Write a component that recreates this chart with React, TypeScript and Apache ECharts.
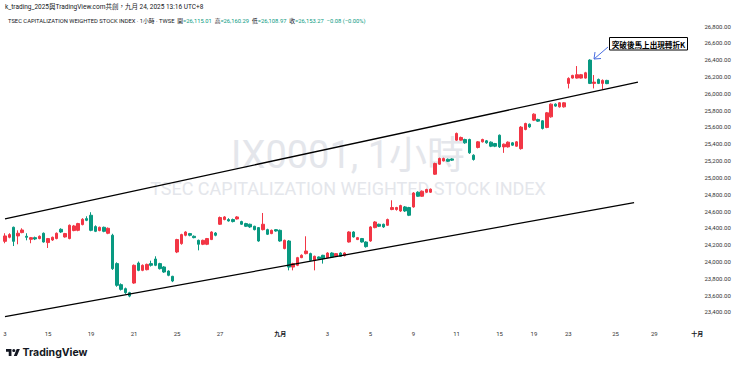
import React, { useEffect, useRef } from "react";
import * as echarts from "echarts";

// ---------- data ----------
const SLOT_COUNT = 162; // hourly bar slots shown (incl. empty future space)

// [open, close, low, high] per hourly bar
const candles: number[][] = [
  [24240, 24304, 24217, 24336], [24288, 24320, 24276, 24336], [24407, 24240, 24184, 24415],
  [24304, 24336, 24205, 24371], [24344, 24375, 24336, 24395], [24300, 24288, 24252, 24336],
  [24264, 24284, 24217, 24292], [24284, 24268, 24255, 24296], [24273, 24300, 24264, 24310],
  [24336, 24232, 24225, 24345], [24225, 24273, 24161, 24280], [24256, 24288, 24245, 24296],
  [24273, 24336, 24264, 24345], [24383, 24351, 24340, 24395], [24292, 24332, 24284, 24340],
  [24273, 24431, 24264, 24440], [24368, 24423, 24360, 24435], [24371, 24451, 24360, 24460],
  [24439, 24502, 24430, 24515], [24510, 24490, 24480, 24538], [24550, 24371, 24360, 24586],
  [24415, 24359, 24350, 24430], [24368, 24407, 24360, 24415], [24407, 24359, 24348, 24415],
  [24336, 24395, 24325, 24405], [24312, 23915, 23900, 24330], [23975, 23717, 23700, 23990],
  [23725, 23669, 23655, 23740], [23677, 23630, 23615, 23690], [23630, 23589, 23575, 23640],
  [23744, 23955, 23735, 23965], [23982, 23895, 23885, 24000], [23895, 23955, 23885, 23965],
  [23903, 23966, 23895, 23975], [23975, 23955, 23940, 24010], [24030, 23955, 23945, 24062],
  [23975, 23915, 23905, 23985], [23935, 23875, 23865, 23945], [23887, 23836, 23825, 23895],
  [23824, 23768, 23755, 23830], [24113, 24261, 24100, 24270], [24213, 24320, 24200, 24330],
  [24312, 24351, 24300, 24360], [24332, 24312, 24300, 24340], [24300, 24284, 24276, 24310],
  [24252, 24205, 24133, 24260], [24205, 24252, 24195, 24260], [24205, 24273, 24195, 24280],
  [24261, 24351, 24255, 24360], [24339, 24312, 24300, 24350], [24443, 24523, 24435, 24535],
  [24499, 24530, 24490, 24540], [24499, 24482, 24475, 24515], [24499, 24475, 24465, 24510],
  [24506, 24530, 24500, 24540], [24475, 24443, 24435, 24485], [24451, 24419, 24410, 24460],
  [24443, 24411, 24400, 24450], [24419, 24379, 24370, 24425], [24403, 24244, 24235, 24410],
  [24379, 24443, 24370, 24577], [24379, 24324, 24315, 24390], [24332, 24371, 24325, 24380],
  [24379, 24363, 24355, 24385], [24371, 24244, 24235, 24380], [24154, 24252, 24145, 24260],
  [24244, 23934, 23895, 24255], [23934, 23975, 23895, 23985], [23955, 24046, 23945, 24055],
  [24046, 24074, 24040, 24085], [24094, 24125, 24085, 24300], [24094, 24014, 24005, 24105],
  [24014, 24062, 23895, 24070], [24054, 24034, 24025, 24060], [24074, 24034, 23975, 24080],
  [24046, 24101, 24040, 24110], [24101, 24054, 24045, 24110], [24062, 24094, 24055, 24100],
  [24101, 24062, 24055, 24110], [24070, 24101, 24060, 24110], [24232, 24351, 24225, 24360],
  [24351, 24292, 24285, 24360], [24261, 24284, 24255, 24292], [24273, 24232, 24225, 24280],
  [24232, 24177, 24165, 24240], [24244, 24411, 24235, 24420], [24403, 24470, 24395, 24480],
  [24443, 24419, 24410, 24450], [24443, 24411, 24400, 24450], [24431, 24499, 24425, 24510],
  [24618, 24642, 24610, 24728], [24618, 24642, 24605, 24650], [24601, 24665, 24590, 24675],
  [24649, 24601, 24590, 24660], [24642, 24550, 24540, 24650], [24649, 24815, 24640, 24825],
  [24824, 24776, 24770, 24835], [24776, 24836, 24770, 24845], [24824, 24856, 24815, 24865],
  [24824, 24860, 24815, 24868], [25038, 25165, 25030, 25175], [25157, 25225, 25150, 25235],
  [25196, 25225, 25190, 25235], [25216, 25192, 25185, 25225], [25220, 25205, 25195, 25228],
  [25443, 25523, 25435, 25533], [25443, 25475, 25436, 25485], [25451, 25411, 25400, 25460],
  [25451, 25292, 25280, 25460], [25264, 25213, 25200, 25275], [25356, 25423, 25345, 25432],
  [25423, 25451, 25415, 25460], [25435, 25411, 25400, 25445], [25419, 25371, 25360, 25428],
  [25403, 25371, 25360, 25410], [25502, 25363, 25350, 25510], [25363, 25395, 25292, 25403],
  [25363, 25419, 25355, 25428], [25411, 25383, 25375, 25420], [25371, 25423, 25365, 25432],
  [25342, 25598, 25330, 25610], [25570, 25641, 25560, 25650], [25633, 25601, 25590, 25640],
  [25681, 25752, 25670, 25762], [25689, 25669, 25660, 25698], [25673, 25582, 25570, 25680],
  [25594, 25768, 25585, 25778], [25720, 25871, 25710, 25880], [25871, 25848, 25840, 25880],
  [25839, 25887, 25830, 25895], [25839, 25887, 25830, 25895], [26118, 26177, 26058, 26190],
  [26181, 26213, 26175, 26220], [26181, 26221, 26175, 26324], [26181, 26221, 26175, 26230],
  [26181, 26244, 26175, 26255], [26395, 26118, 26110, 26405], [26118, 26133, 26058, 26217],
  [26165, 26118, 26110, 26175], [26118, 26153.35, 26050, 26165],
  [26115.01, 26153.27, 26108.97, 26160.29],
];
// bars coloured as "down" (vs previous close) although close > open
const downByPrevClose = [140];

const dayLabels = ["3", "15", "19", "21", "25", "27", "九月", "3", "5", "9", "11", "15", "19", "23", "25", "29", "十月"];
const dayLabelSlots = [0, 10, 20, 30, 40, 50, 64, 75, 85, 95, 105, 115, 123, 131, 142, 151, 161];
const monthLabels = ["九月", "十月"];

const priceMin = 23200;
const priceMax = 27000;
const priceStep = 200;

// channel lines: [slot, price]
const upperChannel = [[0, 24508], [147.2, 26133]];
const lowerChannel = [[0, 23345], [146.3, 24701]];

const headerText = "k_trading_2025與TradingView.com共創，九月 24, 2025 13:16 UTC+8";
const legendTitle = "TSEC CAPITALIZATION WEIGHTED STOCK INDEX · 1小時 · TWSE";
const ohlcNames = ["開", "高", "低", "收"];
const ohlcValues = ["26,115.01", "26,160.29", "26,108.97", "26,153.27"];
const changeText = "−0.08 (−0.00%)";
const watermarkMain = "IX0001, 1小時";
const watermarkSub = "TSEC CAPITALIZATION WEIGHTED STOCK INDEX";
const noteText = "突破後馬上出現轉折K";

// ---------- styling ----------
const UP = "#F23645";
const DOWN = "#089981";
const TEXT = "#131722";
const FONT = "Roboto, 'Noto Sans', 'Noto Sans CJK TC', sans-serif";
const CJK = "'Noto Sans CJK TC', 'Noto Sans', sans-serif";

const TV_LOGO =
  "M14 22H7V11H0V4h14v18z M28 22h-8l7.5-18h8L28 22z M24 8a4 4 0 1 1-8 0a4 4 0 1 1 8 0z";
echarts.graphic.registerShape("tvlogo", echarts.graphic.extendPath(TV_LOGO, {}) as any);

export default function App() {
  const ref = useRef<HTMLDivElement>(null);

  useEffect(() => {
    if (!ref.current) return;
    const chart = echarts.init(ref.current, undefined, { renderer: "svg" });

    const categories = Array.from({ length: SLOT_COUNT }, (_, i) => String(i));
    const labelBySlot: Record<string, string> = {};
    dayLabelSlots.forEach((s, k) => (labelBySlot[String(s)] = dayLabels[k]));

    const candleData = candles.map((c, i) =>
      downByPrevClose.includes(i)
        ? { value: c, itemStyle: { color: DOWN, color0: DOWN, borderColor: DOWN, borderColor0: DOWN } }
        : c
    );

    const slotW = 4.3;
    const gridLeft = 5 - slotW / 2;
    const gridWidth = SLOT_COUNT * slotW;

    const LF = 5.8;
    const legendRich =
      `{t|${legendTitle}}  ` +
      ohlcNames.map((n, k) => `{n|${n}}{v|=${ohlcValues[k]}}`).join("  ") +
      `  {v|${changeText}}`;

    chart.setOption({
      animation: false,
      backgroundColor: "#ffffff",
      grid: {
        left: gridLeft,
        width: gridWidth,
        top: 9.2,
        bottom: 38.2,
        containLabel: false,
      },
      xAxis: [
        {
          type: "category",
          data: categories,
          boundaryGap: true,
          axisLine: { show: false },
          axisTick: { show: false },
          splitLine: { show: false },
          axisLabel: {
            interval: (idx: number) => labelBySlot[String(idx)] !== undefined,
            formatter: (v: string) => {
              const t = labelBySlot[v];
              if (t === undefined) return "";
              return monthLabels.includes(t) ? `{b|${t}}` : t;
            },
            fontSize: 6,
            color: "#333",
            fontFamily: FONT,
            margin: 2,
            hideOverlap: false,
            rich: { b: { fontSize: 6, fontWeight: "bold", color: TEXT, fontFamily: CJK } },
          },
        },
        { type: "value", min: -0.5, max: SLOT_COUNT - 0.5, show: false },
      ],
      yAxis: {
        type: "value",
        position: "right",
        min: priceMin,
        max: priceMax,
        interval: priceStep,
        axisLine: { show: false },
        axisTick: { show: false },
        splitLine: { show: false },
        axisLabel: {
          fontSize: 6,
          color: "#333",
          fontFamily: FONT,
          margin: 5,
          align: "left",
          formatter: (v: number) =>
            v <= priceMin || v >= priceMax
              ? ""
              : v.toLocaleString("en-US", { minimumFractionDigits: 2, maximumFractionDigits: 2 }),
        },
      },
      series: [
        {
          type: "candlestick",
          xAxisIndex: 0,
          data: candleData,
          barWidth: 3,
          itemStyle: { color: UP, color0: DOWN, borderColor: UP, borderColor0: DOWN, borderWidth: 1 },
          z: 3,
        },
        {
          type: "line",
          xAxisIndex: 1,
          data: upperChannel,
          symbol: "none",
          lineStyle: { color: "#000", width: 1.3 },
          z: 4,
        },
        {
          type: "line",
          xAxisIndex: 1,
          data: lowerChannel,
          symbol: "none",
          lineStyle: { color: "#000", width: 1.3 },
          z: 4,
        },
      ],
      graphic: [
        // watermark
        {
          type: "text",
          x: 348,
          y: 155,
          z: 0,
          silent: true,
          style: {
            text: watermarkMain,
            fontSize: 38,
            fontFamily: FONT,
            fill: "#e4e6eb",
            align: "center",
            verticalAlign: "middle",
          },
        },
        {
          type: "text",
          x: 348,
          y: 188,
          z: 0,
          silent: true,
          style: {
            text: watermarkSub,
            fontSize: 18,
            fontFamily: FONT,
            fill: "#e4e6eb",
            align: "center",
            verticalAlign: "middle",
          },
        },
        // header
        {
          type: "text",
          x: 5,
          y: 7,
          z: 100,
          style: { text: headerText, fontSize: 6.5, fontFamily: FONT, fill: TEXT, verticalAlign: "middle" },
        },
        {
          type: "text",
          x: 8,
          y: 20.5,
          z: 100,
          style: {
            text: legendRich,
            fontSize: LF,
            fontFamily: FONT,
            verticalAlign: "middle",
            rich: {
              t: { fill: TEXT, fontSize: LF, fontFamily: FONT },
              n: { fill: TEXT, fontSize: LF, fontFamily: CJK },
              v: { fill: DOWN, fontSize: LF, fontFamily: FONT },
            },
          },
        },
        // annotation
        {
          type: "rect",
          z: 100,
          shape: { x: 609.5, y: 37.5, width: 78, height: 12.5 },
          style: { fill: "#fff", stroke: "#000", lineWidth: 1 },
        },
        {
          type: "text",
          x: 648.5,
          y: 44,
          z: 101,
          style: {
            text: noteText,
            fontSize: 7.6,
            fontWeight: "bold",
            fontFamily: CJK,
            fill: "#000",
            align: "center",
            verticalAlign: "middle",
          },
        },
        {
          type: "line",
          z: 100,
          shape: { x1: 608, y1: 47, x2: 594, y2: 59 },
          style: { stroke: "#4a6ee0", lineWidth: 1 },
        },
        {
          type: "polyline",
          z: 100,
          shape: { points: [[595, 52], [594, 59], [601, 58.5]] },
          style: { stroke: "#4a6ee0", lineWidth: 1, fill: "none" },
        },
        // TradingView logo
        {
          type: "tvlogo",
          x: 6,
          y: 347.4,
          scaleX: 0.39,
          scaleY: 0.39,
          z: 100,
          style: { fill: TEXT },
        },
        {
          type: "text",
          x: 22.5,
          y: 352.5,
          z: 100,
          style: {
            text: "TradingView",
            fontSize: 10.5,
            fontWeight: "bold",
            fontFamily: "Inter, Roboto, sans-serif",
            fill: TEXT,
            verticalAlign: "middle",
          },
        },
      ],
    });

    return () => chart.dispose();
  }, []);

  return (
    <div
      ref={ref}
      style={{ position: "fixed", left: 0, top: 0, width: 740, height: 367, background: "#fff" }}
    />
  );
}
